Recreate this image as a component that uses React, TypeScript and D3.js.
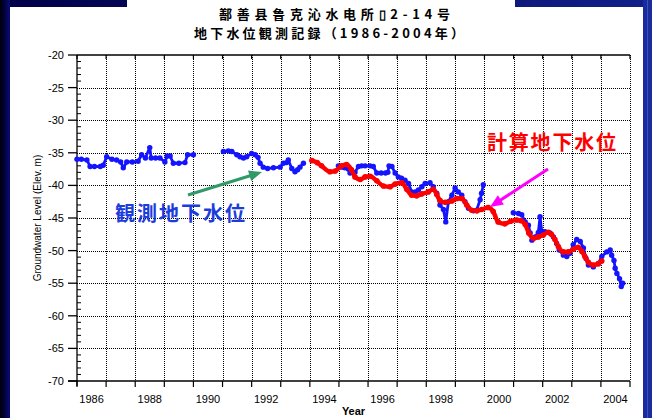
import React from "react";
import * as d3 from "d3";

const W = 652;
const H = 418;

const yearTicks = d3.range(1986, 2006);
const yearLabels = [1986, 1988, 1990, 1992, 1994, 1996, 1998, 2000, 2002, 2004];
const levelTicks = [-20, -25, -30, -35, -40, -45, -50, -55, -60, -65, -70];
const minorLevels = d3.range(-70, -19);

const titleLine1 = "鄯善县鲁克沁水电所▯2-14号";
const titleLine2 = "地下水位観測記録（1986-2004年）";
const obsLabel = "観測地下水位";
const calcLabel = "計算地下水位";
const xTitle = "Year";
const yTitle = "Groundwater Level (Elev. m)";

// Observed groundwater level (blue), four segments
const obsYears1 = [1986.0, 1986.15, 1986.34, 1986.45, 1986.6, 1986.8, 1986.9, 1987.02, 1987.2, 1987.36, 1987.5, 1987.59, 1987.71, 1987.9, 1988.1, 1988.22, 1988.35, 1988.5, 1988.55, 1988.7, 1988.85, 1989.02, 1989.1, 1989.2, 1989.31, 1989.5, 1989.71, 1989.8, 1990.0];
const obsLevels1 = [-36.0, -36.0, -36.1, -37.1, -37.1, -37.1, -36.9, -35.6, -36.0, -36.1, -36.4, -37.3, -36.4, -36.4, -36.3, -35.3, -35.8, -34.2, -35.8, -35.8, -35.8, -36.4, -35.5, -35.5, -36.6, -36.6, -36.5, -35.3, -35.3];

const obsYears2 = [1991.03, 1991.2, 1991.32, 1991.49, 1991.6, 1991.72, 1991.83, 1992.0, 1992.12, 1992.22, 1992.29, 1992.4, 1992.55, 1992.75, 1992.98, 1993.09, 1993.2, 1993.26, 1993.38, 1993.49, 1993.58, 1993.66, 1993.78];
const obsLevels2 = [-34.8, -34.7, -34.8, -35.3, -35.6, -35.8, -35.6, -35.1, -35.3, -35.7, -36.6, -37.2, -37.4, -37.3, -37.2, -36.6, -36.5, -36.1, -37.4, -37.9, -37.6, -37.2, -36.6];

const obsYears3 = [1994.98, 1995.1, 1995.2, 1995.32, 1995.38, 1995.55, 1995.67, 1995.78, 1995.9, 1996.07, 1996.18, 1996.3, 1996.45, 1996.6, 1996.68, 1996.72, 1996.82, 1996.93, 1997.04, 1997.15, 1997.27, 1997.39, 1997.5, 1997.62, 1997.73, 1997.85, 1997.96, 1998.13, 1998.24, 1998.36, 1998.47, 1998.59, 1998.67, 1998.76, 1998.88, 1998.99, 1999.1, 1999.22, 1999.33, 1999.45, 1999.62, 1999.73, 1999.85, 1999.9, 1999.96];
const obsLevels3 = [-37.0, -37.2, -37.3, -37.5, -38.1, -38.0, -37.1, -37.0, -37.0, -37.0, -37.1, -38.1, -38.1, -38.1, -38.0, -37.0, -37.1, -38.1, -38.7, -38.9, -39.2, -39.7, -41.0, -41.0, -40.7, -40.2, -39.7, -39.6, -40.2, -41.2, -43.0, -43.7, -45.6, -42.5, -41.5, -40.4, -41.0, -41.5, -42.5, -43.5, -43.9, -43.8, -42.2, -41.2, -39.9];

const obsYears4 = [2000.99, 2001.17, 2001.28, 2001.4, 2001.51, 2001.57, 2001.63, 2001.74, 2001.85, 2001.91, 2001.97, 2002.08, 2002.25, 2002.37, 2002.48, 2002.57, 2002.71, 2002.83, 2002.94, 2003.05, 2003.17, 2003.29, 2003.4, 2003.49, 2003.57, 2003.74, 2003.91, 2004.03, 2004.2, 2004.32, 2004.37, 2004.45, 2004.49, 2004.55, 2004.64, 2004.7, 2004.75];
const obsLevels4 = [-44.2, -44.3, -44.5, -45.6, -46.1, -47.3, -48.4, -47.9, -47.2, -44.8, -47.1, -47.1, -47.3, -47.9, -48.9, -49.9, -50.7, -50.9, -50.4, -49.1, -48.3, -48.6, -49.6, -51.2, -52.2, -52.5, -52.0, -50.9, -50.2, -49.9, -50.7, -51.5, -52.7, -53.5, -54.3, -55.5, -55.0];

// Calculated groundwater level (red)
const calcYears = [1994.07, 1994.25, 1994.4, 1994.69, 1994.87, 1995.09, 1995.26, 1995.43, 1995.55, 1995.73, 1995.9, 1996.07, 1996.3, 1996.53, 1996.76, 1996.93, 1997.16, 1997.33, 1997.5, 1997.67, 1997.84, 1998.07, 1998.24, 1998.36, 1998.47, 1998.65, 1998.88, 1999.05, 1999.22, 1999.39, 1999.56, 1999.74, 1999.9, 2000.13, 2000.3, 2000.47, 2000.7, 2000.9, 2001.11, 2001.25, 2001.4, 2001.52, 2001.69, 2001.85, 2002.02, 2002.19, 2002.3, 2002.42, 2002.54, 2002.71, 2002.88, 2003.05, 2003.22, 2003.34, 2003.45, 2003.57, 2003.74, 2003.91, 2004.03];
const calcLevels = [-36.2, -36.5, -37.0, -37.9, -37.8, -37.0, -36.8, -37.6, -38.7, -39.1, -38.7, -38.6, -39.3, -40.1, -40.2, -39.8, -39.6, -40.6, -41.5, -41.6, -41.3, -41.0, -40.6, -41.4, -42.3, -42.6, -42.4, -42.0, -42.0, -43.0, -43.8, -43.9, -43.7, -43.4, -44.0, -45.6, -45.9, -45.5, -45.3, -45.4, -46.0, -47.3, -48.1, -47.9, -47.6, -47.2, -47.5, -48.3, -49.4, -50.2, -50.2, -49.8, -49.5, -50.1, -50.9, -51.8, -52.2, -52.0, -51.6];

const obsSegments = [
  [obsYears1, obsLevels1],
  [obsYears2, obsLevels2],
  [obsYears3, obsLevels3],
  [obsYears4, obsLevels4],
];

function arrowShape(x1: number, y1: number, x2: number, y2: number, len: number, wid: number) {
  const dx = x2 - x1, dy = y2 - y1;
  const L = Math.hypot(dx, dy);
  const ux = dx / L, uy = dy / L;
  const bx = x2 - ux * len, by = y2 - uy * len;
  const px = -uy * wid / 2, py = ux * wid / 2;
  return {
    line: { x1, y1, x2: x2 - ux * len * 0.7, y2: y2 - uy * len * 0.7 },
    head: `${x2},${y2} ${bx + px},${by + py} ${bx - px},${by - py}`,
  };
}

export default function App() {
  const x = d3.scaleLinear().domain([1986, 2005]).range([77, 630]);
  const y = d3.scaleLinear().domain([-70, -20]).range([381, 55]);
  const [x0, x1] = x.range();
  const [yb, yt] = y.range();
  const px = (v: number) => Math.round(v) + 0.5;

  const lineGen = d3.line<[number, number]>().x((d) => x(d[0])).y((d) => y(d[1]));
  const smoothGen = d3
    .line<[number, number]>()
    .x((d) => x(d[0]))
    .y((d) => y(d[1]))
    .curve(d3.curveMonotoneX);

  const calcPts: [number, number][] = calcYears.map((t, i) => [t, calcLevels[i]]);

  const gridDash = "1,1";
  const green = arrowShape(188, 195, 262, 172, 13, 11);
  const magenta = arrowShape(548, 169, 490, 207, 13, 11);

  return (
    <svg
      width={W}
      height={H}
      style={{ position: "absolute", left: 0, top: 0, display: "block" }}
      fontFamily="'Liberation Sans', Arial, sans-serif"
    >
      <defs>
        <linearGradient id="navyTop" x1="0" x2="1" y1="0" y2="0">
          <stop offset="0" stopColor="#000048" />
          <stop offset="1" stopColor="#10208a" />
        </linearGradient>
        <linearGradient id="navyLeft" x1="0" x2="1" y1="0" y2="0">
          <stop offset="0" stopColor="#000008" />
          <stop offset="0.35" stopColor="#000030" />
          <stop offset="1" stopColor="#0a0a78" />
        </linearGradient>
      </defs>
      {/* frame */}
      <rect x={0} y={0} width={W} height={H} fill="url(#navyTop)" />
      <rect x={0} y={0} width={10} height={H} fill="url(#navyLeft)" />
      <rect x={643} y={0} width={9} height={H} fill="#1a2c9c" />
      <rect x={647} y={0} width={1} height={H} fill="#3a52c0" />
      <rect x={10} y={7} width={633} height={H - 7} fill="#ffffff" />
      <rect x={127} y={0} width={388} height={8} fill="#ffffff" />

      {/* title */}
      <text
        x={219}
        y={19}
        fontSize={13}
        fontWeight="bold"
        fontFamily="'Noto Sans CJK SC', sans-serif"
        textLength={231}
        lengthAdjust="spacing"
        fill="#000"
      >
        {titleLine1}
      </text>
      <text
        x={194}
        y={38}
        fontSize={13}
        fontWeight="bold"
        fontFamily="'Noto Sans CJK JP', sans-serif"
        textLength={270}
        lengthAdjust="spacing"
        fill="#000"
      >
        {titleLine2}
      </text>

      {/* grid */}
      {yearTicks.slice(1).map((t) => (
        <line key={"vg" + t} x1={px(x(t))} x2={px(x(t))} y1={yt} y2={yb} stroke="#000" strokeWidth={1} strokeDasharray={gridDash} shapeRendering="crispEdges" />
      ))}
      {levelTicks.filter((v) => v !== -20 && v !== -70).map((v) => (
        <line key={"hg" + v} x1={x0} x2={x1} y1={px(y(v))} y2={px(y(v))} stroke="#000" strokeWidth={1} strokeDasharray={gridDash} shapeRendering="crispEdges" />
      ))}

      {/* axes */}
      <line x1={x0} x2={x1} y1={yt} y2={yt} stroke="#000" strokeWidth={1.3} />
      <line x1={x0 - 9} x2={x1} y1={yb} y2={yb} stroke="#000" strokeWidth={1.3} />
      <line x1={x0} x2={x0} y1={yt} y2={yb + 5} stroke="#000" strokeWidth={1.3} />
      {yearTicks.map((t) => (
        <g key={"xt" + t}>
          <line x1={x(t)} x2={x(t)} y1={yb} y2={yb + 6} stroke="#000" strokeWidth={1.2} />
          <line x1={x(t)} x2={x(t)} y1={yt} y2={yt + 4} stroke="#000" strokeWidth={1.2} />
        </g>
      ))}
      {levelTicks.map((v) => (
        <line key={"yt" + v} x1={x0 - 9} x2={x0} y1={y(v)} y2={y(v)} stroke="#000" strokeWidth={1.3} />
      ))}
      {minorLevels.filter((v) => v % 5 !== 0).map((v) => (
        <line key={"ym" + v} x1={x0} x2={x0 + 4} y1={y(v)} y2={y(v)} stroke="#000" strokeWidth={1} />
      ))}

      {/* tick labels */}
      {levelTicks.map((v) => (
        <text key={"yl" + v} x={x0 - 13} y={y(v) + 4} fontSize={11} textAnchor="end" fill="#000">
          {v}
        </text>
      ))}
      {yearLabels.map((t) => (
        <text key={"xl" + t} x={x(t + 0.5)} y={403} fontSize={11} textAnchor="middle" fill="#000">
          {t}
        </text>
      ))}
      <text x={(x0 + x1) / 2} y={415} fontSize={11} fontWeight="bold" textAnchor="middle" fill="#000">
        {xTitle}
      </text>
      <text
        transform={`translate(41, ${(yt + yb) / 2}) rotate(-90)`}
        fontSize={10}
        textAnchor="middle"
        fill="#000"
      >
        {yTitle}
      </text>

      {/* observed */}
      {obsSegments.map(([ts, vs], si) => {
        const pts: [number, number][] = (ts as number[]).map((t, i) => [t, (vs as number[])[i]]);
        return (
          <g key={"obs" + si}>
            <path d={lineGen(pts) || ""} fill="none" stroke="#1414ff" strokeWidth={2.8} strokeLinejoin="round" />
            {pts.map((p, i) => (
              <circle key={i} cx={x(p[0])} cy={y(p[1])} r={2.7} fill="#1414ff" />
            ))}
          </g>
        );
      })}

      {/* calculated */}
      <path d={smoothGen(calcPts) || ""} fill="none" stroke="#ff0000" strokeWidth={4.4} strokeLinecap="round" strokeLinejoin="round" />
      {calcPts.map((p, i) => (
        <circle key={"c" + i} cx={x(p[0])} cy={y(p[1])} r={2.8} fill="#ff0000" />
      ))}

      {/* annotations */}
      <line {...green.line} stroke="#2f9a68" strokeWidth={3} />
      <polygon points={green.head} fill="#2f9a68" />
      <text
        x={115}
        y={221}
        fontSize={20}
        fontWeight="bold"
        fontFamily="'Noto Sans CJK JP', sans-serif"
        fill="#1c3cdc"
        textLength={130}
        lengthAdjust="spacing"
      >
        {obsLabel}
      </text>

      <line {...magenta.line} stroke="#ff00ff" strokeWidth={3} />
      <polygon points={magenta.head} fill="#ff00ff" />
      <text
        x={487}
        y={150}
        fontSize={20}
        fontWeight="bold"
        fontFamily="'Noto Sans CJK JP', sans-serif"
        fill="#ff0000"
        textLength={129}
        lengthAdjust="spacing"
      >
        {calcLabel}
      </text>
    </svg>
  );
}
